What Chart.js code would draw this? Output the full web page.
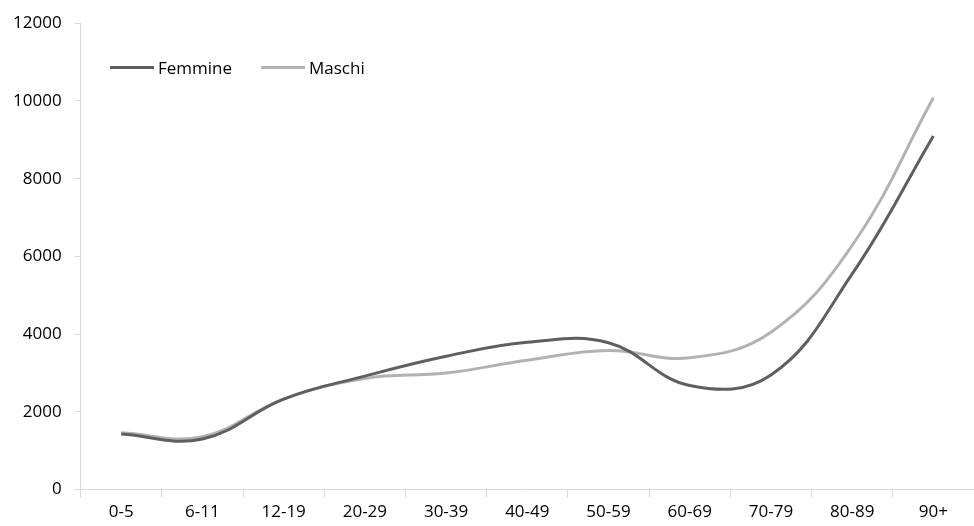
<!DOCTYPE html>
<html>
<head>
<meta charset="utf-8">
<script src="https://cdn.jsdelivr.net/npm/chart.js@4.4.0/dist/chart.umd.min.js"></script>
<style>
  html, body { margin: 0; padding: 0; background: #fff; }
  #wrap { position: relative; width: 974px; height: 526px; }
  #legend { position: absolute; left: 110px; top: 56px; font-family: "Open Sans", sans-serif; font-size: 17px; color: #000; }
  .item { position: absolute; top: 0; white-space: nowrap; display: flex; align-items: center; height: 22px; }
  .swatch { display: inline-block; width: 44px; height: 3px; margin-right: 4px; }
</style>
</head>
<body>
<div id="wrap">
  <canvas id="chart" width="974" height="526"></canvas>
  <div id="legend"></div>
</div>
<script>
const categories = ['0-5', '6-11', '12-19', '20-29', '30-39', '40-49', '50-59', '60-69', '70-79', '80-89', '90+'];
const femmine = [1430, 1300, 2330, 2920, 3430, 3790, 3780, 2680, 2950, 5550, 9100];
const maschi = [1460, 1360, 2330, 2860, 3000, 3330, 3580, 3390, 4050, 6280, 10080];
const yTicks = [0, 2000, 4000, 6000, 8000, 10000, 12000];

const seriesNames = ['Femmine', 'Maschi'];
const seriesColors = ['#5f5f5f', '#b2b2b2'];

const ctx = document.getElementById('chart').getContext('2d');
new Chart(ctx, {
  type: 'line',
  data: {
    labels: categories,
    datasets: [
      { label: seriesNames[0], data: femmine, borderColor: seriesColors[0], borderWidth: 3, pointRadius: 0, tension: 0.4, fill: false },
      { label: seriesNames[1], data: maschi, borderColor: seriesColors[1], borderWidth: 3, pointRadius: 0, tension: 0.4, fill: false }
    ]
  },
  options: {
    responsive: false,
    animation: false,
    layout: { padding: { top: 6, left: 0, right: 0, bottom: 0 } },
    plugins: { legend: { display: false }, tooltip: { enabled: false } },
    scales: {
      x: {
        offset: true,
        grid: { display: true, drawOnChartArea: false, drawTicks: true, tickLength: 8, color: '#d9d9d9', offset: true },
        border: { color: '#d9d9d9' },
        ticks: { color: '#000', font: { family: 'Open Sans', size: 17 }, maxRotation: 0, padding: 4 }
      },
      y: {
        min: 0,
        max: 12000,
        afterBuildTicks: (axis) => { axis.ticks = yTicks.map(v => ({ value: v })); },
        grid: { display: true, drawOnChartArea: false, drawTicks: true, tickLength: 6, color: '#d9d9d9' },
        border: { color: '#d9d9d9' },
        ticks: { color: '#000', font: { family: 'Open Sans', size: 17 }, padding: 13, callback: (v) => String(v) }
      }
    }
  }
});

// legend placed inside the plot, top left
const legend = document.getElementById('legend');
const offsets = [0, 151];
seriesNames.forEach((name, i) => {
  const item = document.createElement('div');
  item.className = 'item';
  item.style.left = offsets[i] + 'px';
  item.innerHTML = '<span class="swatch" style="background:' + seriesColors[i] + '"></span>' + name;
  legend.appendChild(item);
});
</script>
</body>
</html>
